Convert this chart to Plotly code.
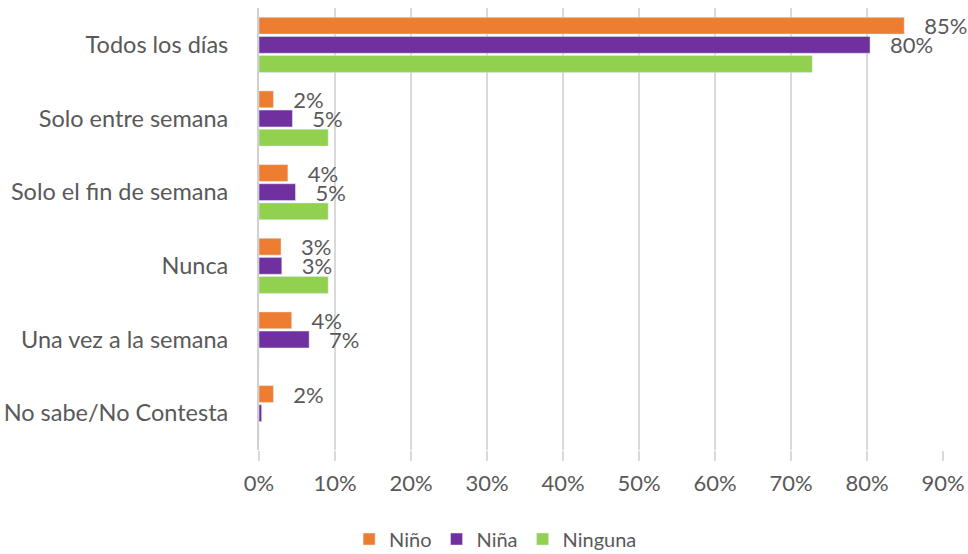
import plotly.graph_objects as go

# Datos
categorias = [
    "Todos los días",
    "Solo entre semana",
    "Solo el fin de semana",
    "Nunca",
    "Una vez a la semana",
    "No sabe/No Contesta",
]
nino = [84.9, 1.9, 3.8, 2.9, 4.3, 1.9]
nina = [80.4, 4.4, 4.8, 3.0, 6.6, 0.35]
ninguna = [72.8, 9.1, 9.1, 9.1, 0, 0]
etiquetas_nino = ["85%", "2%", "4%", "3%", "4%", "2%"]
etiquetas_nina = ["80%", "5%", "5%", "3%", "7%", ""]
ticks_x = [0, 10, 20, 30, 40, 50, 60, 70, 80, 90]

FUENTE = "Lato, 'Open Sans', sans-serif"
GRIS = "#595959"
SEP = "\u00a0\u00a0\u00a0"  # hueco entre barra y etiqueta

fig = go.Figure()

fig.add_trace(
    go.Bar(
        y=categorias, x=nino, name="Niño", orientation="h",
        marker=dict(color="#ED7D31"),
        text=etiquetas_nino, texttemplate=SEP + "%{text}",
        textposition="outside", constraintext="none",
        textfont=dict(size=22, color=GRIS, family=FUENTE),
        cliponaxis=False,
    )
)
fig.add_trace(
    go.Bar(
        y=categorias, x=nina, name="Niña", orientation="h",
        marker=dict(color="#7030A0"),
        text=etiquetas_nina, texttemplate=SEP + "%{text}",
        textposition="outside", constraintext="none",
        textfont=dict(size=22, color=GRIS, family=FUENTE),
        cliponaxis=False,
    )
)
fig.add_trace(
    go.Bar(
        y=categorias, x=ninguna, name="Ninguna", orientation="h",
        marker=dict(color="#92D050"),
    )
)

fig.update_layout(
    width=968,
    height=554,
    barmode="group",
    bargap=0.22,
    bargroupgap=0.12,
    plot_bgcolor="white",
    paper_bgcolor="white",
    margin=dict(l=259, r=25, t=8, b=104),
    font=dict(family=FUENTE, color=GRIS, size=22),
    xaxis=dict(
        range=[0, 90],
        tickvals=ticks_x,
        ticktext=[f"{v}%" for v in ticks_x],
        showgrid=True,
        gridcolor="#D9D9D9",
        gridwidth=1.5,
        zeroline=False,
        ticks="outside",
        ticklen=10,
        tickcolor="#D9D9D9",
        tickwidth=1.5,
        ticklabelstandoff=4,
        tickfont=dict(size=22),
        automargin=False,
    ),
    yaxis=dict(
        autorange="reversed",
        showline=True,
        linecolor="#D0D0D0",
        linewidth=2,
        ticks="",
        ticklabelstandoff=24,
        tickfont=dict(size=23.5),
        automargin=False,
    ),
    legend=dict(
        orientation="h",
        xref="container", yref="container",
        x=0.512, y=0.027,
        xanchor="center", yanchor="middle",
        font=dict(size=20),
        itemwidth=30,
    ),
    showlegend=True,
)

# quitar el margen del body para que la figura empiece en (0, 0)
fig.write_html(
    "out.html",
    config={"displayModeBar": False},
    post_script="document.body.style.margin='0';",
)
